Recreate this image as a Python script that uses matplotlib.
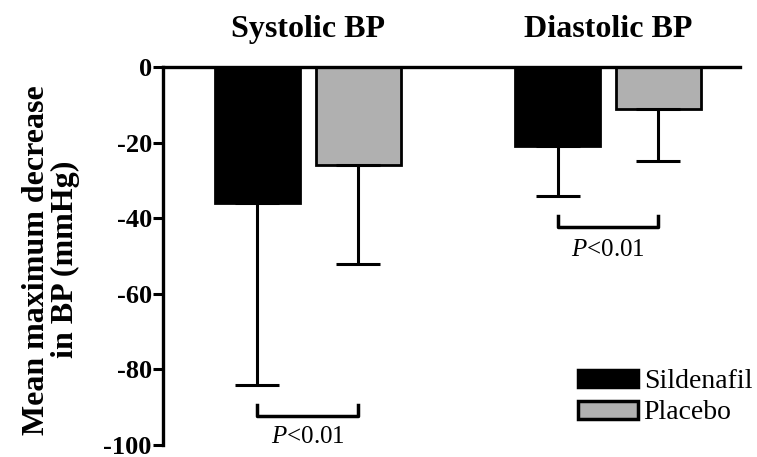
import numpy as np
import matplotlib.pyplot as plt
from matplotlib.patches import Patch

# -------------------------------
# Data (mean decrease and SD, mmHg)
# -------------------------------
groups = ['Systolic BP', 'Diastolic BP']
treatments = ['Sildenafil', 'Placebo']
sildenafil_mean = [-36, -21]
sildenafil_sd = [48, 13]
placebo_mean = [-26, -11]
placebo_sd = [26, 14]
p_labels = ['<0.01', '<0.01']

plt.rcParams['font.family'] = ['Liberation Serif', 'DejaVu Serif']
plt.rcParams['axes.unicode_minus'] = False
plt.rcParams['mathtext.fontset'] = 'custom'
plt.rcParams['mathtext.rm'] = 'Liberation Serif'
plt.rcParams['mathtext.it'] = 'Liberation Serif:italic'

fig = plt.figure(figsize=(7.57, 4.57), dpi=100)
ax = fig.add_axes([0.2153, 0.0263, 0.7622, 0.8271])

x = np.arange(len(groups))
width = 0.283
offset = 0.168
err_kw = dict(ecolor='black', elinewidth=2.2, capsize=16, capthick=2.2)

# one-sided (downward) error bars
ax.bar(x - offset, sildenafil_mean, width, color='black', edgecolor='black',
       linewidth=2, yerr=[sildenafil_sd, np.zeros(2)], error_kw=err_kw, zorder=2)
ax.bar(x + offset, placebo_mean, width, color='#b0b0b0', edgecolor='black',
       linewidth=2, yerr=[placebo_sd, np.zeros(2)], error_kw=err_kw, zorder=2)

ax.set_xlim(-0.483, 1.44)
ax.set_ylim(-100, 0)
ax.set_yticks([0, -20, -40, -60, -80, -100])
ax.set_xticks([])
ax.tick_params(axis='y', direction='out', length=7, width=2.2, pad=1)
for lab in ax.get_yticklabels():
    lab.set_fontweight('bold')
    lab.set_fontsize(19)

for side in ['right', 'bottom']:
    ax.spines[side].set_visible(False)
ax.spines['left'].set_linewidth(2.4)
ax.spines['top'].set_linewidth(2.4)

# group titles above the axis
for xi, g in zip(x, groups):
    ax.text(xi, 1.08, g, transform=ax.get_xaxis_transform(), ha='center',
            va='baseline', fontsize=23, fontweight='bold')

ax.set_ylabel('Mean maximum decrease\nin BP (mmHg)', fontsize=23,
              fontweight='bold', linespacing=1.0)
ax.yaxis.set_label_coords(-0.144, 0.49)

# significance brackets
bracket_y = [-92.4, -42.4]
bracket_h = 3.0
text_y = [-98.0, -48.3]
for xi, by, ty, p in zip(x, bracket_y, text_y, p_labels):
    x0, x1 = xi - offset, xi + offset
    ax.plot([x0, x0, x1, x1], [by + bracket_h, by, by, by + bracket_h],
            color='black', lw=2.5, clip_on=False)
    ax.text(xi, ty, r'$\mathit{P}$' + p, ha='center', va='center', fontsize=18)

handles = [Patch(facecolor='black', edgecolor='black', linewidth=2.5),
           Patch(facecolor='#b0b0b0', edgecolor='black', linewidth=2.5)]
ax.legend(handles, treatments, loc='upper left', bbox_to_anchor=(0.72, 0.2),
          frameon=False, fontsize=20, handlelength=2.15, handleheight=0.6,
          handletextpad=0.2, labelspacing=0.22, borderaxespad=0, borderpad=0)

fig.savefig('out.png', dpi=100)
